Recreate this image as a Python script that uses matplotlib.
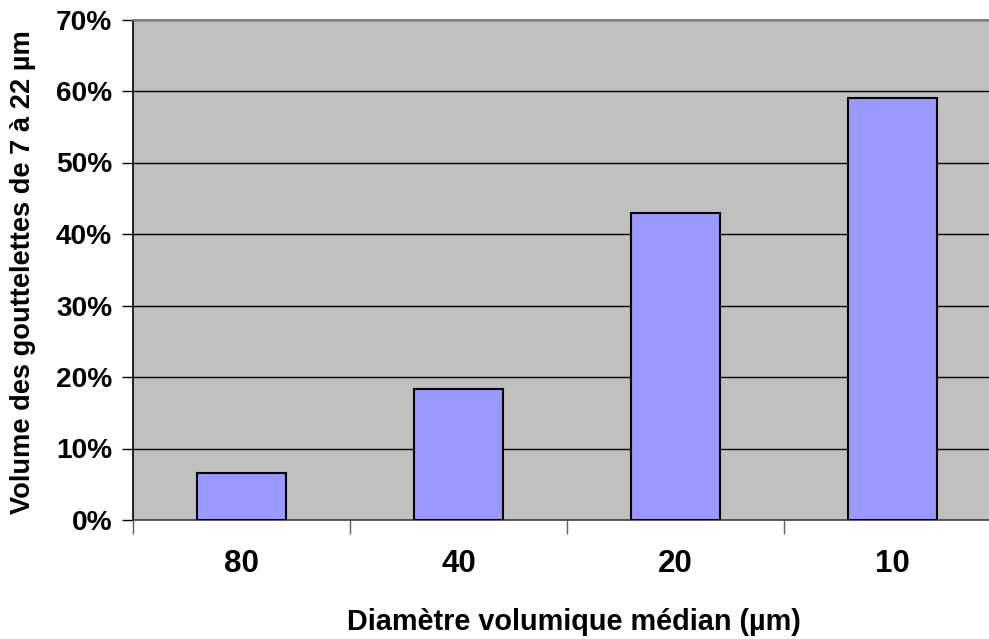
import matplotlib
matplotlib.use("Agg")
import matplotlib.pyplot as plt
from matplotlib.ticker import FuncFormatter, MultipleLocator

categories = ["80", "40", "20", "10"]
values = [6.6, 18.3, 43.0, 59.0]
xlabel = "Diamètre volumique médian (µm)"
ylabel = "Volume des gouttelettes de 7 à 22 µm"

plt.rcParams['font.family'] = ['Liberation Sans', 'DejaVu Sans']
plt.rcParams['font.weight'] = 'bold'

W, H = 989, 639
fig = plt.figure(figsize=(W / 100, H / 100), dpi=100)
left, right, top, bottom = 133, 1001, 19.5, 520
ax = fig.add_axes([left / W, 1 - bottom / H, (right - left) / W, (bottom - top) / H])
ax.set_facecolor("#C0C0C0")

x = list(range(len(categories)))
ax.bar(x, values, width=0.41, color="#9999FF", edgecolor="black", linewidth=1.5, zorder=3)

ax.set_xlim(-0.5, len(categories) - 0.5)
ax.set_ylim(0, 70)
ax.yaxis.set_major_locator(MultipleLocator(10))
ax.yaxis.set_major_formatter(FuncFormatter(lambda v, p: f"{v:.0f}%"))
ax.grid(axis="y", color="black", linewidth=1.0, zorder=1)
ax.set_axisbelow(True)

ax.set_xticks([i - 0.5 for i in range(len(categories) + 1)])
ax.set_xticklabels([])
ax.set_xticks(x, minor=True)
ax.set_xticklabels(categories, minor=True, fontsize=22.5, fontweight='bold')
ax.tick_params(axis="x", which="minor", length=0, pad=21)
ax.tick_params(axis="x", which="major", length=10, width=1, color="#606060", direction="out")
ax.tick_params(axis="y", length=8, width=1, direction="out", pad=7, labelsize=20.2)
for lab in ax.get_yticklabels():
    lab.set_fontweight('bold')

ax.spines["top"].set_color("#808080")
ax.spines["top"].set_linewidth(1.5)
ax.spines["right"].set_visible(False)
ax.spines["left"].set_color("black")
ax.spines["left"].set_linewidth(1.2)
ax.spines["bottom"].set_color("#404040")
ax.spines["bottom"].set_linewidth(1.2)

fig.text(574 / W, 1 - 622 / H, xlabel, ha="center", va="center", fontsize=20.8, fontweight='bold')
fig.text(23 / W, 1 - 272 / H, ylabel, ha="center", va="center", rotation=90, fontsize=19.6, fontweight='bold')

fig.savefig("out.png", dpi=100)
